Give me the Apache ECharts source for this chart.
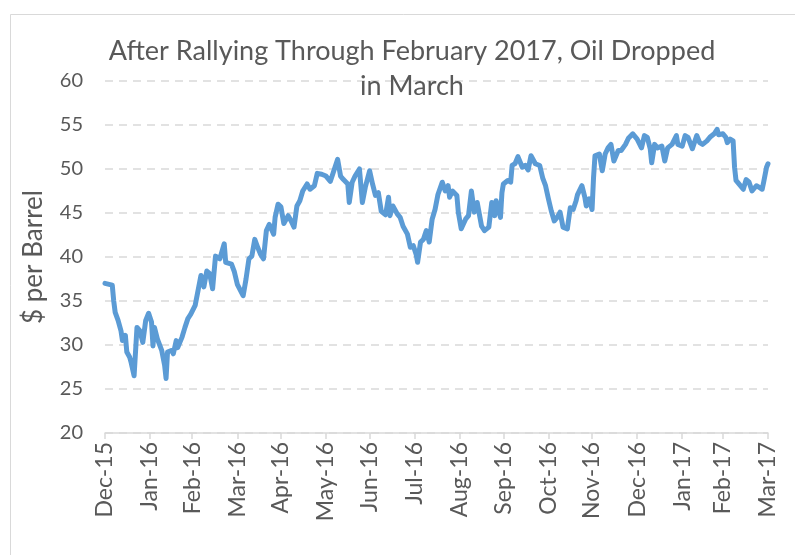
<!DOCTYPE html>
<html>
<head>
<meta charset="utf-8">
<script src="https://cdn.jsdelivr.net/npm/echarts@6/dist/echarts.min.js"></script>
<style>
  html, body { margin: 0; padding: 0; background: #fff; }
  #main { width: 795px; height: 555px; }
</style>
</head>
<body>
<div id="main"></div>
<script>
// WTI spot price
var dates = [
  '2015-12-31','2016-01-05','2016-01-06','2016-01-07','2016-01-09','2016-01-11','2016-01-12','2016-01-14','2016-01-15','2016-01-17',
  '2016-01-18','2016-01-20','2016-01-22','2016-01-24','2016-01-26','2016-01-28','2016-01-30','2016-02-01','2016-02-02','2016-02-03',
  '2016-02-05','2016-02-08','2016-02-10','2016-02-11','2016-02-12','2016-02-15','2016-02-16','2016-02-18','2016-02-19','2016-02-22',
  '2016-02-24','2016-02-26','2016-02-28','2016-03-02','2016-03-04','2016-03-06','2016-03-08','2016-03-10','2016-03-12','2016-03-14',
  '2016-03-16','2016-03-19','2016-03-22','2016-03-23','2016-03-27','2016-03-29','2016-03-31','2016-04-04','2016-04-06','2016-04-08',
  '2016-04-10','2016-04-12','2016-04-14','2016-04-16','2016-04-18','2016-04-20','2016-04-22','2016-04-25','2016-04-26','2016-04-28',
  '2016-04-30','2016-05-02','2016-05-05','2016-05-07','2016-05-09','2016-05-11','2016-05-13','2016-05-15','2016-05-18','2016-05-20',
  '2016-05-23','2016-05-25','2016-05-28','2016-05-31','2016-06-03','2016-06-05','2016-06-08','2016-06-10','2016-06-12','2016-06-15',
  '2016-06-16','2016-06-18','2016-06-20','2016-06-23','2016-06-25','2016-06-27','2016-06-30','2016-07-02','2016-07-04','2016-07-06',
  '2016-07-08','2016-07-11','2016-07-13','2016-07-14','2016-07-16','2016-07-19','2016-07-21','2016-07-23','2016-07-26','2016-07-28',
  '2016-07-30','2016-08-01','2016-08-02','2016-08-04','2016-08-06','2016-08-08','2016-08-10','2016-08-12','2016-08-14','2016-08-16',
  '2016-08-19','2016-08-21','2016-08-23','2016-08-24','2016-08-26','2016-08-29','2016-08-30','2016-09-01','2016-09-04','2016-09-06',
  '2016-09-08','2016-09-10','2016-09-12','2016-09-15','2016-09-17','2016-09-20','2016-09-22','2016-09-24','2016-09-25','2016-09-28',
  '2016-09-29','2016-09-30','2016-10-03','2016-10-05','2016-10-06','2016-10-08','2016-10-10','2016-10-13','2016-10-15','2016-10-17',
  '2016-10-19','2016-10-22','2016-10-25','2016-10-27','2016-10-29','2016-10-31','2016-11-02','2016-11-04','2016-11-06','2016-11-08',
  '2016-11-10','2016-11-13','2016-11-15','2016-11-17','2016-11-19','2016-11-20','2016-11-23','2016-11-25','2016-11-26','2016-11-28',
  '2016-11-30','2016-12-01','2016-12-02','2016-12-05','2016-12-07','2016-12-09','2016-12-11','2016-12-13','2016-12-15','2016-12-18',
  '2016-12-20','2016-12-23','2016-12-25','2016-12-28','2016-12-31','2017-01-03','2017-01-05','2017-01-07','2017-01-09','2017-01-10',
  '2017-01-12','2017-01-14','2017-01-17','2017-01-19','2017-01-21','2017-01-24','2017-01-27','2017-01-28','2017-01-31','2017-02-02',
  '2017-02-04','2017-02-07','2017-02-10','2017-02-12','2017-02-14','2017-02-17','2017-02-19','2017-02-22','2017-02-24','2017-02-25',
  '2017-02-28','2017-03-02','2017-03-03','2017-03-05','2017-03-07','2017-03-08','2017-03-09','2017-03-11','2017-03-14','2017-03-16',
  '2017-03-18','2017-03-20','2017-03-23','2017-03-25','2017-03-27','2017-03-28','2017-03-30','2017-03-31'
];
var prices = [
  37.0, 36.8, 35.0, 33.7, 32.8, 31.6, 30.5, 31.1, 29.2, 28.6,
  28.0, 26.5, 32.0, 31.6, 30.3, 32.8, 33.6, 32.6, 29.9, 32.0,
  30.7, 29.4, 27.7, 26.2, 29.2, 29.4, 29.0, 30.5, 29.7, 30.9,
  32.0, 33.0, 33.5, 34.5, 36.2, 37.9, 36.6, 38.4, 38.1, 36.4,
  40.1, 39.8, 41.5, 39.4, 39.2, 38.3, 36.9, 35.6, 37.5, 39.8,
  40.1, 42.0, 41.1, 40.3, 39.8, 43.0, 43.7, 42.6, 44.5, 46.0,
  45.7, 43.8, 44.7, 44.1, 43.4, 45.8, 46.4, 47.5, 48.3, 47.7,
  48.1, 49.5, 49.4, 49.2, 48.6, 49.6, 51.1, 49.2, 48.8, 48.3,
  46.2, 48.5, 49.2, 50.0, 46.2, 47.9, 49.8, 48.3, 47.0, 47.3,
  45.2, 44.8, 46.8, 44.7, 45.8, 44.9, 44.5, 43.5, 42.6, 41.1,
  41.3, 40.3, 39.4, 41.7, 42.0, 43.0, 41.7, 44.3, 45.4, 47.1,
  48.5, 47.5, 48.1, 46.8, 47.5, 47.0, 45.1, 43.2, 44.3, 44.7,
  47.5, 45.1, 46.2, 43.5, 43.0, 43.4, 46.2, 44.7, 46.4, 44.5,
  47.3, 48.3, 48.7, 48.5, 50.4, 50.6, 51.4, 50.2, 50.4, 49.9,
  51.5, 50.6, 50.4, 49.0, 48.1, 46.6, 45.2, 44.1, 44.5, 45.1,
  43.4, 43.2, 45.6, 45.4, 46.4, 47.1, 48.1, 46.8, 45.8, 46.6,
  45.4, 49.0, 51.5, 51.7, 49.8, 51.7, 52.4, 52.8, 50.9, 52.1,
  52.1, 52.8, 53.5, 54.0, 53.4, 52.4, 53.8, 53.6, 52.3, 50.7,
  52.8, 52.4, 52.6, 50.9, 52.4, 52.8, 53.8, 52.8, 52.6, 53.8,
  53.6, 52.3, 53.8, 53.0, 52.8, 53.2, 53.6, 54.0, 54.5, 53.9,
  54.0, 53.6, 53.0, 53.4, 53.2, 50.2, 48.7, 48.3, 47.7, 48.8,
  48.5, 47.5, 48.1, 47.9, 47.7, 48.5, 50.2, 50.6
];
// month-end ticks, as Excel shows them
var tickDates = [
  '2015-12-31','2016-01-31','2016-02-29','2016-03-31','2016-04-30','2016-05-31','2016-06-30','2016-07-31',
  '2016-08-31','2016-09-30','2016-10-31','2016-11-30','2016-12-31','2017-01-31','2017-02-28','2017-03-31'
];
var tickLabels = [
  'Dec-15','Jan-16','Feb-16','Mar-16','Apr-16','May-16','Jun-16','Jul-16',
  'Aug-16','Sep-16','Oct-16','Nov-16','Dec-16','Jan-17','Feb-17','Mar-17'
];

// day number counted from the first tick
function dayNum(s) {
  var p = s.split('-');
  var t = Date.UTC(+p[0], +p[1] - 1, +p[2]);
  var b = tickDates[0].split('-');
  return Math.round((t - Date.UTC(+b[0], +b[1] - 1, +b[2])) / 86400000);
}

var tickDays = tickDates.map(dayNum);
var seriesData = dates.map(function (d, i) { return [dayNum(d), prices[i]]; });

var chartDom = document.getElementById('main');
var myChart = echarts.init(chartDom);
var option;

option = {
  animation: false,
  backgroundColor: '#fff',
  textStyle: { fontFamily: 'Lato' },
  graphic: [{
    type: 'rect',
    shape: { x: 10.5, y: 14.5, width: 800, height: 560 },
    style: { fill: 'none', stroke: '#d9d9d9', lineWidth: 1 },
    silent: true
  }],
  title: {
    text: 'After Rallying Through February 2017, Oil Dropped\nin March',
    left: 407,
    top: 29,
    textAlign: 'center',
    textStyle: {
      fontFamily: 'Lato',
      fontSize: 27,
      fontWeight: 'normal',
      color: '#595959',
      lineHeight: 35
    }
  },
  grid: {
    left: 105,
    right: 27,
    top: 81,
    bottom: 122,
    outerBoundsMode: 'none'
  },
  xAxis: {
    type: 'value',
    min: tickDays[0],
    max: tickDays[tickDays.length - 1],
    axisLine: { lineStyle: { color: '#d9d9d9', width: 1.5 } },
    axisTick: {
      show: true,
      length: 6,
      customValues: tickDays,
      lineStyle: { color: '#d9d9d9', width: 1.5 }
    },
    axisLabel: {
      customValues: tickDays,
      rotate: 90,
      margin: 9,
      fontSize: 23,
      color: '#595959',
      formatter: function (value) {
        var i = tickDays.indexOf(value);
        return i >= 0 ? tickLabels[i] : '';
      }
    },
    splitLine: { show: false }
  },
  yAxis: {
    type: 'value',
    min: 20,
    max: 60,
    interval: 5,
    name: '$ per Barrel',
    nameLocation: 'middle',
    nameGap: 58,
    nameTextStyle: { fontSize: 26, color: '#595959' },
    axisLine: { show: false },
    axisTick: { show: false },
    axisLabel: { fontSize: 20, color: '#595959', margin: 22 },
    splitLine: { lineStyle: { color: '#d9d9d9', width: 1.5, type: [8, 6] } }
  },
  series: [{
    name: 'WTI',
    type: 'line',
    data: seriesData,
    showSymbol: false,
    lineStyle: { color: '#5b9bd5', width: 5, cap: 'round', join: 'round' }
  }]
};

option && myChart.setOption(option);
</script>
</body>
</html>
